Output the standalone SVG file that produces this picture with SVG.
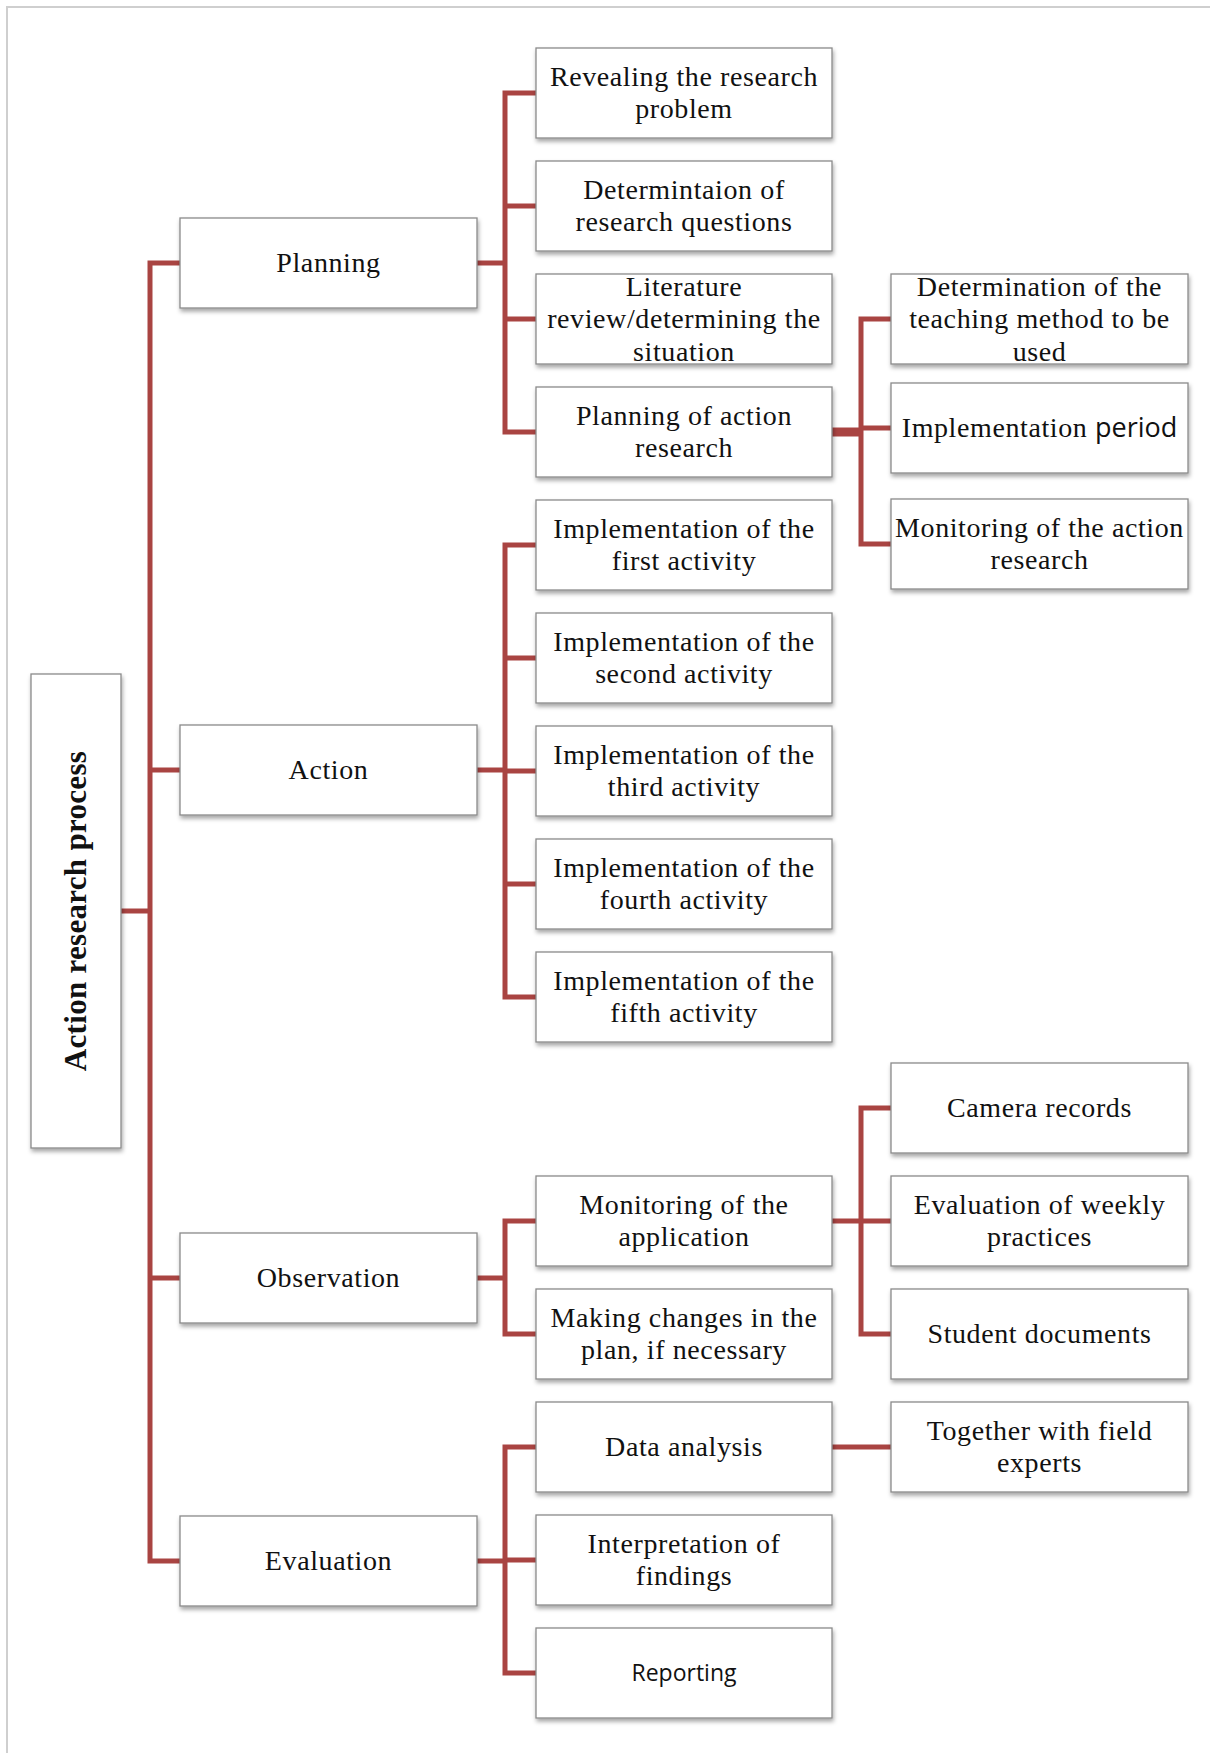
<svg xmlns="http://www.w3.org/2000/svg" width="1210" height="1753" viewBox="0 0 1210 1753">
<defs>
<filter id="sh" x="-10%" y="-10%" width="125%" height="140%">
<feDropShadow dx="1" dy="3" stdDeviation="2" flood-color="#000" flood-opacity="0.35"/>
</filter>
<style>
.box{fill:#fff;stroke:#8a8a8a;stroke-width:1.3;filter:url(#sh)}
.t{font-family:"Liberation Serif","DejaVu Serif",serif;font-size:28px;letter-spacing:0.6px;fill:#111;text-anchor:middle}
.s{font-family:"Open Sans","Liberation Sans",sans-serif;letter-spacing:0;fill:#111}
.c{fill:none;stroke:#a94442;stroke-width:5}
</style>
</defs>
<rect width="1210" height="1753" fill="#fff"/>
<path d="M7,1753 V7 H1210" fill="none" stroke="#cfcfcf" stroke-width="2"/>

<g id="connectors">
<path class="c" d="M121,911 H150"/>
<path class="c" d="M180,263 H150 V1561 H180 M150,770 H180 M150,1278 H180"/>
<path class="c" d="M477,263 H505 M536,93 H505 V432 H536 M505,206 H536 M505,319 H536"/>
<path class="c" d="M477,770 H505 M536,545 H505 V997 H536 M505,658 H536 M505,771 H536 M505,884 H536"/>
<path class="c" d="M477,1278 H505 M536,1221 H505 V1334 H536"/>
<path class="c" d="M477,1561 H505 M536,1447 H505 V1673 H536 M505,1560 H536"/>
<path class="c" d="M832,432 H861" style="stroke-width:9"/>
<path class="c" d="M891,319 H861 V544 H891 M861,428 H891"/>
<path class="c" d="M832,1221 H891 M891,1108 H861 V1334 H891"/>
<path class="c" d="M832,1447 H891"/>
</g>

<g id="root"><rect class="box" x="31" y="674" width="90" height="474"/>
<text class="t" transform="translate(76,911) rotate(-90)" x="0" y="10" style="font-weight:bold;font-size:31px;letter-spacing:0.3px">Action research process</text></g>

<g id="planning"><rect class="box" x="180" y="218" width="297" height="90"/><text class="t" x="328.5" y="272">Planning</text></g>
<g id="action"><rect class="box" x="180" y="725" width="297" height="90"/><text class="t" x="328.5" y="779">Action</text></g>
<g id="observation"><rect class="box" x="180" y="1233" width="297" height="90"/><text class="t" x="328.5" y="1287">Observation</text></g>
<g id="evaluation"><rect class="box" x="180" y="1516" width="297" height="90"/><text class="t" x="328.5" y="1570">Evaluation</text></g>

<g id="revealing"><rect class="box" x="536" y="48" width="296" height="90"/><text class="t" x="684" y="86">Revealing the research</text><text class="t" x="684" y="118">problem</text></g>
<g id="questions"><rect class="box" x="536" y="161" width="296" height="90"/><text class="t" x="684" y="199">Determintaion of</text><text class="t" x="684" y="231">research questions</text></g>
<g id="literature"><rect class="box" x="536" y="274" width="296" height="90"/><text class="t" x="684" y="296">Literature</text><text class="t" x="684" y="328">review/determining the</text><text class="t" x="684" y="361">situation</text></g>
<g id="planning-action"><rect class="box" x="536" y="387" width="296" height="90"/><text class="t" x="684" y="425">Planning of action</text><text class="t" x="684" y="457">research</text></g>
<g id="impl1"><rect class="box" x="536" y="500" width="296" height="90"/><text class="t" x="684" y="538">Implementation of the</text><text class="t" x="684" y="570">first activity</text></g>
<g id="impl2"><rect class="box" x="536" y="613" width="296" height="90"/><text class="t" x="684" y="651">Implementation of the</text><text class="t" x="684" y="683">second activity</text></g>
<g id="impl3"><rect class="box" x="536" y="726" width="296" height="90"/><text class="t" x="684" y="764">Implementation of the</text><text class="t" x="684" y="796">third activity</text></g>
<g id="impl4"><rect class="box" x="536" y="839" width="296" height="90"/><text class="t" x="684" y="877">Implementation of the</text><text class="t" x="684" y="909">fourth activity</text></g>
<g id="impl5"><rect class="box" x="536" y="952" width="296" height="90"/><text class="t" x="684" y="990">Implementation of the</text><text class="t" x="684" y="1022">fifth activity</text></g>
<g id="monitoring-app"><rect class="box" x="536" y="1176" width="296" height="90"/><text class="t" x="684" y="1214">Monitoring of the</text><text class="t" x="684" y="1246">application</text></g>
<g id="changes"><rect class="box" x="536" y="1289" width="296" height="90"/><text class="t" x="684" y="1327">Making changes in the</text><text class="t" x="684" y="1359">plan, if necessary</text></g>
<g id="data-analysis"><rect class="box" x="536" y="1402" width="296" height="90"/><text class="t" x="684" y="1456">Data analysis</text></g>
<g id="interpretation"><rect class="box" x="536" y="1515" width="296" height="90"/><text class="t" x="684" y="1553">Interpretation of</text><text class="t" x="684" y="1585">findings</text></g>
<g id="reporting"><rect class="box" x="536" y="1628" width="296" height="90"/><text class="t s" x="684" y="1681" style="font-size:23px">Reporting</text></g>

<g id="teaching-method"><rect class="box" x="891" y="274" width="297" height="90"/><text class="t" x="1039.5" y="296">Determination of the</text><text class="t" x="1039.5" y="328">teaching method to be</text><text class="t" x="1039.5" y="361">used</text></g>
<g id="impl-period"><rect class="box" x="891" y="383" width="297" height="90"/><text class="t" x="1039.5" y="437">Implementation <tspan class="s" style="font-size:27px">period</tspan></text></g>
<g id="monitoring-action"><rect class="box" x="891" y="499" width="297" height="90"/><text class="t" x="1039.5" y="537">Monitoring of the action</text><text class="t" x="1039.5" y="569">research</text></g>
<g id="camera"><rect class="box" x="891" y="1063" width="297" height="90"/><text class="t" x="1039.5" y="1117">Camera records</text></g>
<g id="weekly"><rect class="box" x="891" y="1176" width="297" height="90"/><text class="t" x="1039.5" y="1214">Evaluation of weekly</text><text class="t" x="1039.5" y="1246">practices</text></g>
<g id="student-docs"><rect class="box" x="891" y="1289" width="297" height="90"/><text class="t" x="1039.5" y="1343">Student documents</text></g>
<g id="experts"><rect class="box" x="891" y="1402" width="297" height="90"/><text class="t" x="1039.5" y="1440">Together with field</text><text class="t" x="1039.5" y="1472">experts</text></g>
</svg>
